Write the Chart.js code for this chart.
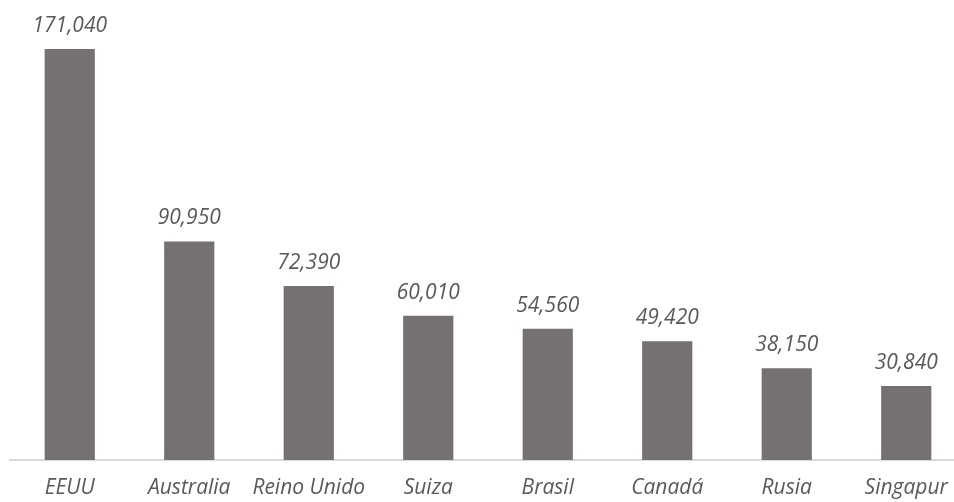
<!DOCTYPE html>
<html>
<head>
<meta charset="utf-8">
<script src="https://cdn.jsdelivr.net/npm/chart.js@4/dist/chart.umd.min.js"></script>
<style>
  html, body { margin: 0; padding: 0; background: #fff; overflow: hidden; }
  #wrap { width: 954px; height: 502px; overflow: hidden; }
</style>
</head>
<body>
<div id="wrap"><canvas id="myChart" width="966" height="502"></canvas></div>
<script>
// paises y valores
const paises = ['EEUU', 'Australia', 'Reino Unido', 'Suiza', 'Brasil', 'Canadá', 'Rusia', 'Singapur'];
const valores = [171040, 90950, 72390, 60010, 54560, 49420, 38150, 30840];

const fuente = "'Open Sans', sans-serif";

// etiquetas encima de cada barra
const etiquetas = {
  id: 'etiquetas',
  afterDatasetsDraw(chart) {
    const c = chart.ctx;
    const meta = chart.getDatasetMeta(0);
    c.save();
    c.font = 'italic 21px ' + fuente;
    c.fillStyle = '#595959';
    c.textAlign = 'center';
    c.textBaseline = 'alphabetic';
    meta.data.forEach(function (bar, i) {
      c.fillText(valores[i].toLocaleString('en-US'), bar.x, bar.y - 17);
    });
    c.restore();
  }
};

const ctx = document.getElementById('myChart');
new Chart(ctx, {
  type: 'bar',
  data: {
    labels: paises,
    datasets: [{
      data: valores,
      backgroundColor: '#767171',
      borderWidth: 0,
      categoryPercentage: 1,
      barPercentage: 0.42
    }]
  },
  options: {
    responsive: false,
    animation: false,
    layout: { padding: { left: 10, right: 0, top: 0, bottom: 0 } },
    plugins: {
      legend: { display: false },
      tooltip: { enabled: false }
    },
    scales: {
      x: {
        grid: { display: false, drawTicks: false },
        border: { color: '#d9d9d9', width: 2 },
        afterFit: function (scale) { scale.height = 42; },
        ticks: {
          color: '#595959',
          padding: 15,
          maxRotation: 0,
          autoSkip: false,
          font: { family: fuente, size: 21, style: 'italic' }
        }
      },
      y: {
        display: false,
        min: 0,
        max: 191400
      }
    }
  },
  plugins: [etiquetas]
});
</script>
</body>
</html>
